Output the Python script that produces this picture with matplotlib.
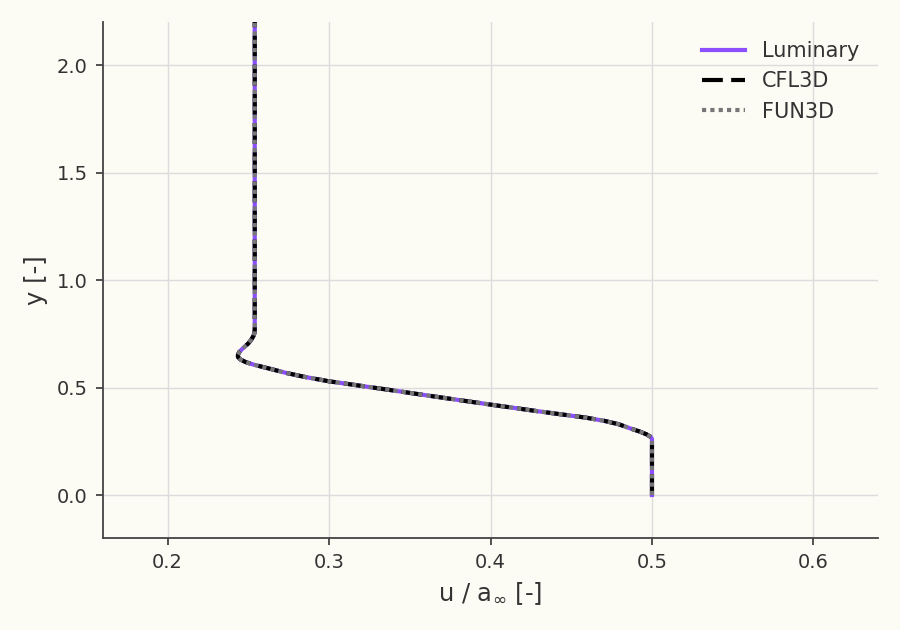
import numpy as np
from matplotlib import pyplot as plt

# velocity profile u/a_inf vs y
y_lum = [0.0, 0.26, 0.27, 0.282, 0.295, 0.31, 0.329, 0.345, 0.36, 0.39, 0.421, 0.46,
         0.491, 0.529, 0.55, 0.568, 0.59, 0.606, 0.618, 0.63, 0.642, 0.653, 0.665,
         0.676, 0.69, 0.705, 0.722, 0.74, 0.753, 0.77, 2.2]
u_lum = [0.5, 0.5, 0.4993, 0.4967, 0.4925, 0.4865, 0.4795, 0.4705, 0.459, 0.429, 0.3996,
         0.3637, 0.3355, 0.30, 0.2845, 0.2734, 0.262, 0.2535, 0.2485, 0.2452, 0.2436,
         0.2436, 0.2444, 0.2458, 0.2478, 0.2500, 0.2518, 0.2532, 0.2538, 0.254, 0.254]
y_cfl = list(y_lum)
u_cfl = list(u_lum)
y_fun = list(y_lum)
u_fun = list(u_lum)

bg = "#fcfbf4"
fig = plt.figure(figsize=(9, 6.3), dpi=100, facecolor=bg)
ax = fig.add_axes([0.1144, 0.146, 0.8612, 0.819], facecolor=bg)

ax.plot(u_lum, y_lum, color="#8c4fff", lw=3, label="Luminary")
ax.plot(u_cfl, y_cfl, color="black", lw=3, ls=(0, (5, 2)), label="CFL3D")
ax.plot(u_fun, y_fun, color="#777777", lw=3, ls=(0, (1, 1)), label="FUN3D")

ax.set_xlim(0.16, 0.64)
ax.set_ylim(-0.2, 2.2)
ax.set_xticks([0.2, 0.3, 0.4, 0.5, 0.6])
ax.set_yticks([0.0, 0.5, 1.0, 1.5, 2.0])
ax.xaxis.set_major_formatter(plt.FormatStrFormatter("%.1f"))
ax.yaxis.set_major_formatter(plt.FormatStrFormatter("%.1f"))
ax.grid(True, color="#dcdcdc", lw=1)
ax.set_axisbelow(True)

for s in ["top", "right"]:
    ax.spines[s].set_visible(False)
for s in ["left", "bottom"]:
    ax.spines[s].set_color("#444444")
    ax.spines[s].set_linewidth(1.3)
ax.tick_params(colors="#444444", labelcolor="#333333", labelsize=14, width=1.3, length=5, pad=6)

ax.set_xlabel("u / a$_\\infty$ [-]", fontsize=17.5, color="#333333", labelpad=6)
ax.set_ylabel("y [-]", fontsize=17.5, color="#333333", labelpad=6)

leg = ax.legend(loc="upper right", frameon=False, fontsize=15, handlelength=2.07)
for t in leg.get_texts():
    t.set_color("#333333")

fig.savefig("out.png", dpi=100, facecolor=bg)
